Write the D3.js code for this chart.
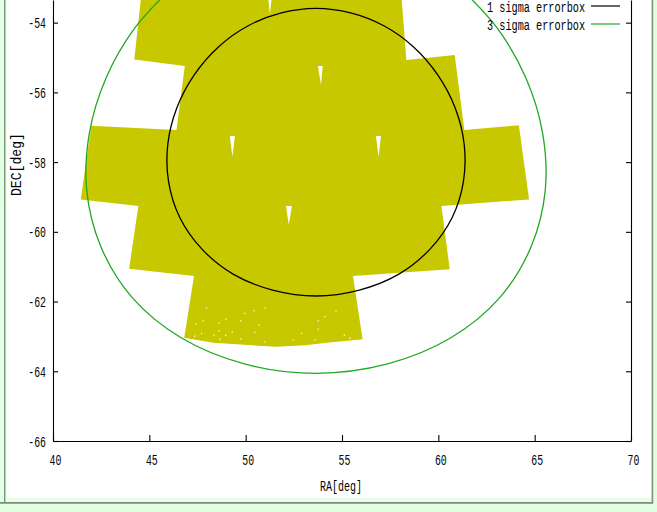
<!DOCTYPE html>
<html>
<head>
<meta charset="utf-8">
<script src="https://cdn.jsdelivr.net/npm/d3@7"></script>
<style>
html,body{margin:0;padding:0;background:#e2ffe2;overflow:hidden}
svg{display:block}
text{font-family:"Liberation Mono",monospace;font-size:14px;fill:#000}
</style>
</head>
<body>
<svg id="c" width="657" height="512"></svg>
<script>
const xTicks = [40,45,50,55,60,65,70];
const yTicks = [-66,-64,-62,-60,-58,-56,-54];
const xLabel = "RA[deg]";
const yLabel = "DEC[deg]";
const legendNames = ["1 sigma errorbox","3 sigma errorbox"];

const fieldRa  = [44.61,44.22,46.84,46.41,41.99,41.44,44.43,43.95,47.32,46.81,48.31,51.61,53.08,54.22,56.07,55.57,60.59,60.16,64.71,64.18,61.35,60.85,58.34,58.06];
const fieldDec = [-53.06,-55.06,-55.24,-57.08,-56.96,-59.07,-59.26,-61.06,-61.27,-63.04,-63.18,-63.30,-63.25,-63.18,-63.08,-61.27,-61.07,-59.26,-59.07,-56.94,-57.08,-54.93,-55.07,-53.06];

const gapsRa  = [[51.17,51.35,51.26],[53.75,54.00,53.91],[49.18,49.44,49.31],[52.09,52.40,52.24],[56.76,57.02,56.90]];
const gapsDec = [[-53.30,-53.30,-53.75],[-55.24,-55.24,-55.79],[-57.25,-57.25,-57.85],[-59.26,-59.26,-59.80],[-57.25,-57.25,-57.85]];

const speckRa  = [47.97,47.79,47.41,48.62,48.97,49.75,49.96,50.44,51.01,50.70,48.62,49.30,50.48,48.36,47.71,47.36,48.96,48.66,49.75,51.00,52.47,52.90,53.77,54.11,54.69,53.77,53.60,55.12,55.41];
const speckDec = [-62.19,-62.55,-62.64,-62.62,-62.50,-62.55,-62.34,-62.26,-62.19,-62.67,-62.84,-62.88,-62.88,-62.96,-62.91,-62.99,-62.96,-63.08,-63.07,-63.15,-63.10,-62.91,-62.55,-62.43,-62.27,-62.79,-63.10,-62.96,-63.04];

const sigma1Ra  = [53.65,55.45,57.17,58.70,59.96,60.87,61.34,61.30,60.72,59.58,57.93,55.90,53.65,51.40,49.37,47.72,46.58,46.00,45.96,46.43,47.34,48.60,50.13,51.85];
const sigma1Dec = [-53.59,-53.72,-54.09,-54.69,-55.49,-56.44,-57.48,-58.57,-59.59,-60.49,-61.22,-61.67,-61.84,-61.67,-61.22,-60.49,-59.59,-58.57,-57.48,-56.44,-55.49,-54.69,-54.09,-53.72];

const sigma3Ra  = [61.11,63.06,64.54,65.41,65.55,64.82,63.20,60.65,57.36,53.65,49.94,46.65,44.10,42.48,41.75,41.89,42.76,44.24,46.19];
const sigma3Dec = [-52.99,-54.16,-55.58,-57.16,-58.81,-60.42,-61.88,-63.04,-63.79,-64.06,-63.79,-63.04,-61.88,-60.42,-58.81,-57.16,-55.58,-54.16,-52.99];

const svg = d3.select("#c");
const x = d3.scaleLinear().domain([40,70]).range([53,631]);
const y = d3.scaleLinear().domain([-66,-53.35]).range([441,0]);

// page panel
const panel = svg.append("g");
panel.append("rect").attr("x",5).attr("y",-2).attr("width",647).attr("height",504).attr("fill","#e9fde9");
panel.append("rect").attr("x",7).attr("y",-2).attr("width",645).attr("height",500).attr("fill","#fff");
panel.append("rect").attr("x",4).attr("y",-2).attr("width",1.4).attr("height",505).attr("fill","#7d917d");
panel.append("rect").attr("x",651.6).attr("y",-2).attr("width",1.6).attr("height",505).attr("fill","#7d917d");
panel.append("rect").attr("x",0).attr("y",502).attr("width",653.2).attr("height",1.8).attr("fill","#7f8f7f");

// coverage
const poly = (ra,dec) => d3.line()(ra.map((r,i)=>[x(r),y(dec[i])])) + "Z";
svg.append("path").attr("d",poly(fieldRa,fieldDec)).attr("fill","#c8c800");
svg.append("g").selectAll("path").data(gapsRa).join("path")
  .attr("d",(r,i)=>poly(r,gapsDec[i])).attr("fill","#fff");
svg.append("g").selectAll("rect").data(speckRa).join("rect")
  .attr("x",d=>x(d)-0.6).attr("y",(d,i)=>y(speckDec[i])-0.6)
  .attr("width",1.2).attr("height",1.4).attr("fill","#ffffc8");

// error boxes
const curve = d3.line().curve(d3.curveCatmullRomClosed.alpha(0.5));
const open  = d3.line().curve(d3.curveCatmullRom.alpha(0.5));
svg.append("path").attr("fill","none").attr("stroke","#000").attr("stroke-width",1.3)
  .attr("d",curve(sigma1Ra.map((r,i)=>[x(r),y(sigma1Dec[i])])));
svg.append("path").attr("fill","none").attr("stroke","#22a822").attr("stroke-width",1.3)
  .attr("d",open(sigma3Ra.map((r,i)=>[x(r),y(sigma3Dec[i])])));

// axes
const fixLabels = (g,anchor) => g.selectAll("text")
  .attr("fill","#000").attr("text-anchor",anchor).attr("dy",null)
  .attr("textLength",function(){return this.textContent.length*5.9})
  .attr("lengthAdjust","spacingAndGlyphs");

const fmt = d => String(d);
const gx = svg.append("g").attr("transform","translate(0,441)")
  .call(d3.axisBottom(x).tickValues(xTicks).tickFormat(fmt).tickSize(-6).tickSizeOuter(0));
gx.selectAll("text").attr("x",2).attr("y",24);
fixLabels(gx,"middle");

const gy = svg.append("g").attr("transform","translate(53,0)")
  .call(d3.axisLeft(y).tickValues(yTicks).tickFormat(fmt).tickSize(-5).tickSizeOuter(0));
gy.selectAll("text").attr("x",-7).attr("y",5);
fixLabels(gy,"end");

const gr = svg.append("g").attr("transform","translate(631,0)")
  .call(d3.axisRight(y).tickValues(yTicks).tickFormat("").tickSize(-5).tickSizeOuter(0));

svg.selectAll(".domain,.tick line").attr("stroke","#000").attr("stroke-width",1.1);

svg.append("text").attr("x",341).attr("y",491).attr("text-anchor","middle")
  .attr("textLength",42).attr("lengthAdjust","spacingAndGlyphs").text(xLabel);
svg.append("text").attr("transform","translate(21,164.5) rotate(-90)").attr("text-anchor","middle")
  .attr("textLength",63).attr("lengthAdjust","spacingAndGlyphs").text(yLabel);

// legend
const legendColors = ["#000","#22a822"];
const legendY = d3.scalePoint().domain(legendNames).range([6,24]);
const lg = svg.append("g").selectAll("g").data(legendNames).join("g");
lg.append("text").attr("x",487).attr("y",d=>legendY(d)+5.5)
  .attr("textLength",98).attr("lengthAdjust","spacingAndGlyphs").text(d=>d);
lg.append("line").attr("x1",591).attr("x2",620).attr("y1",d=>legendY(d)).attr("y2",d=>legendY(d))
  .attr("stroke",(d,i)=>legendColors[i]).attr("stroke-width",1.2);
</script>
</body>
</html>
